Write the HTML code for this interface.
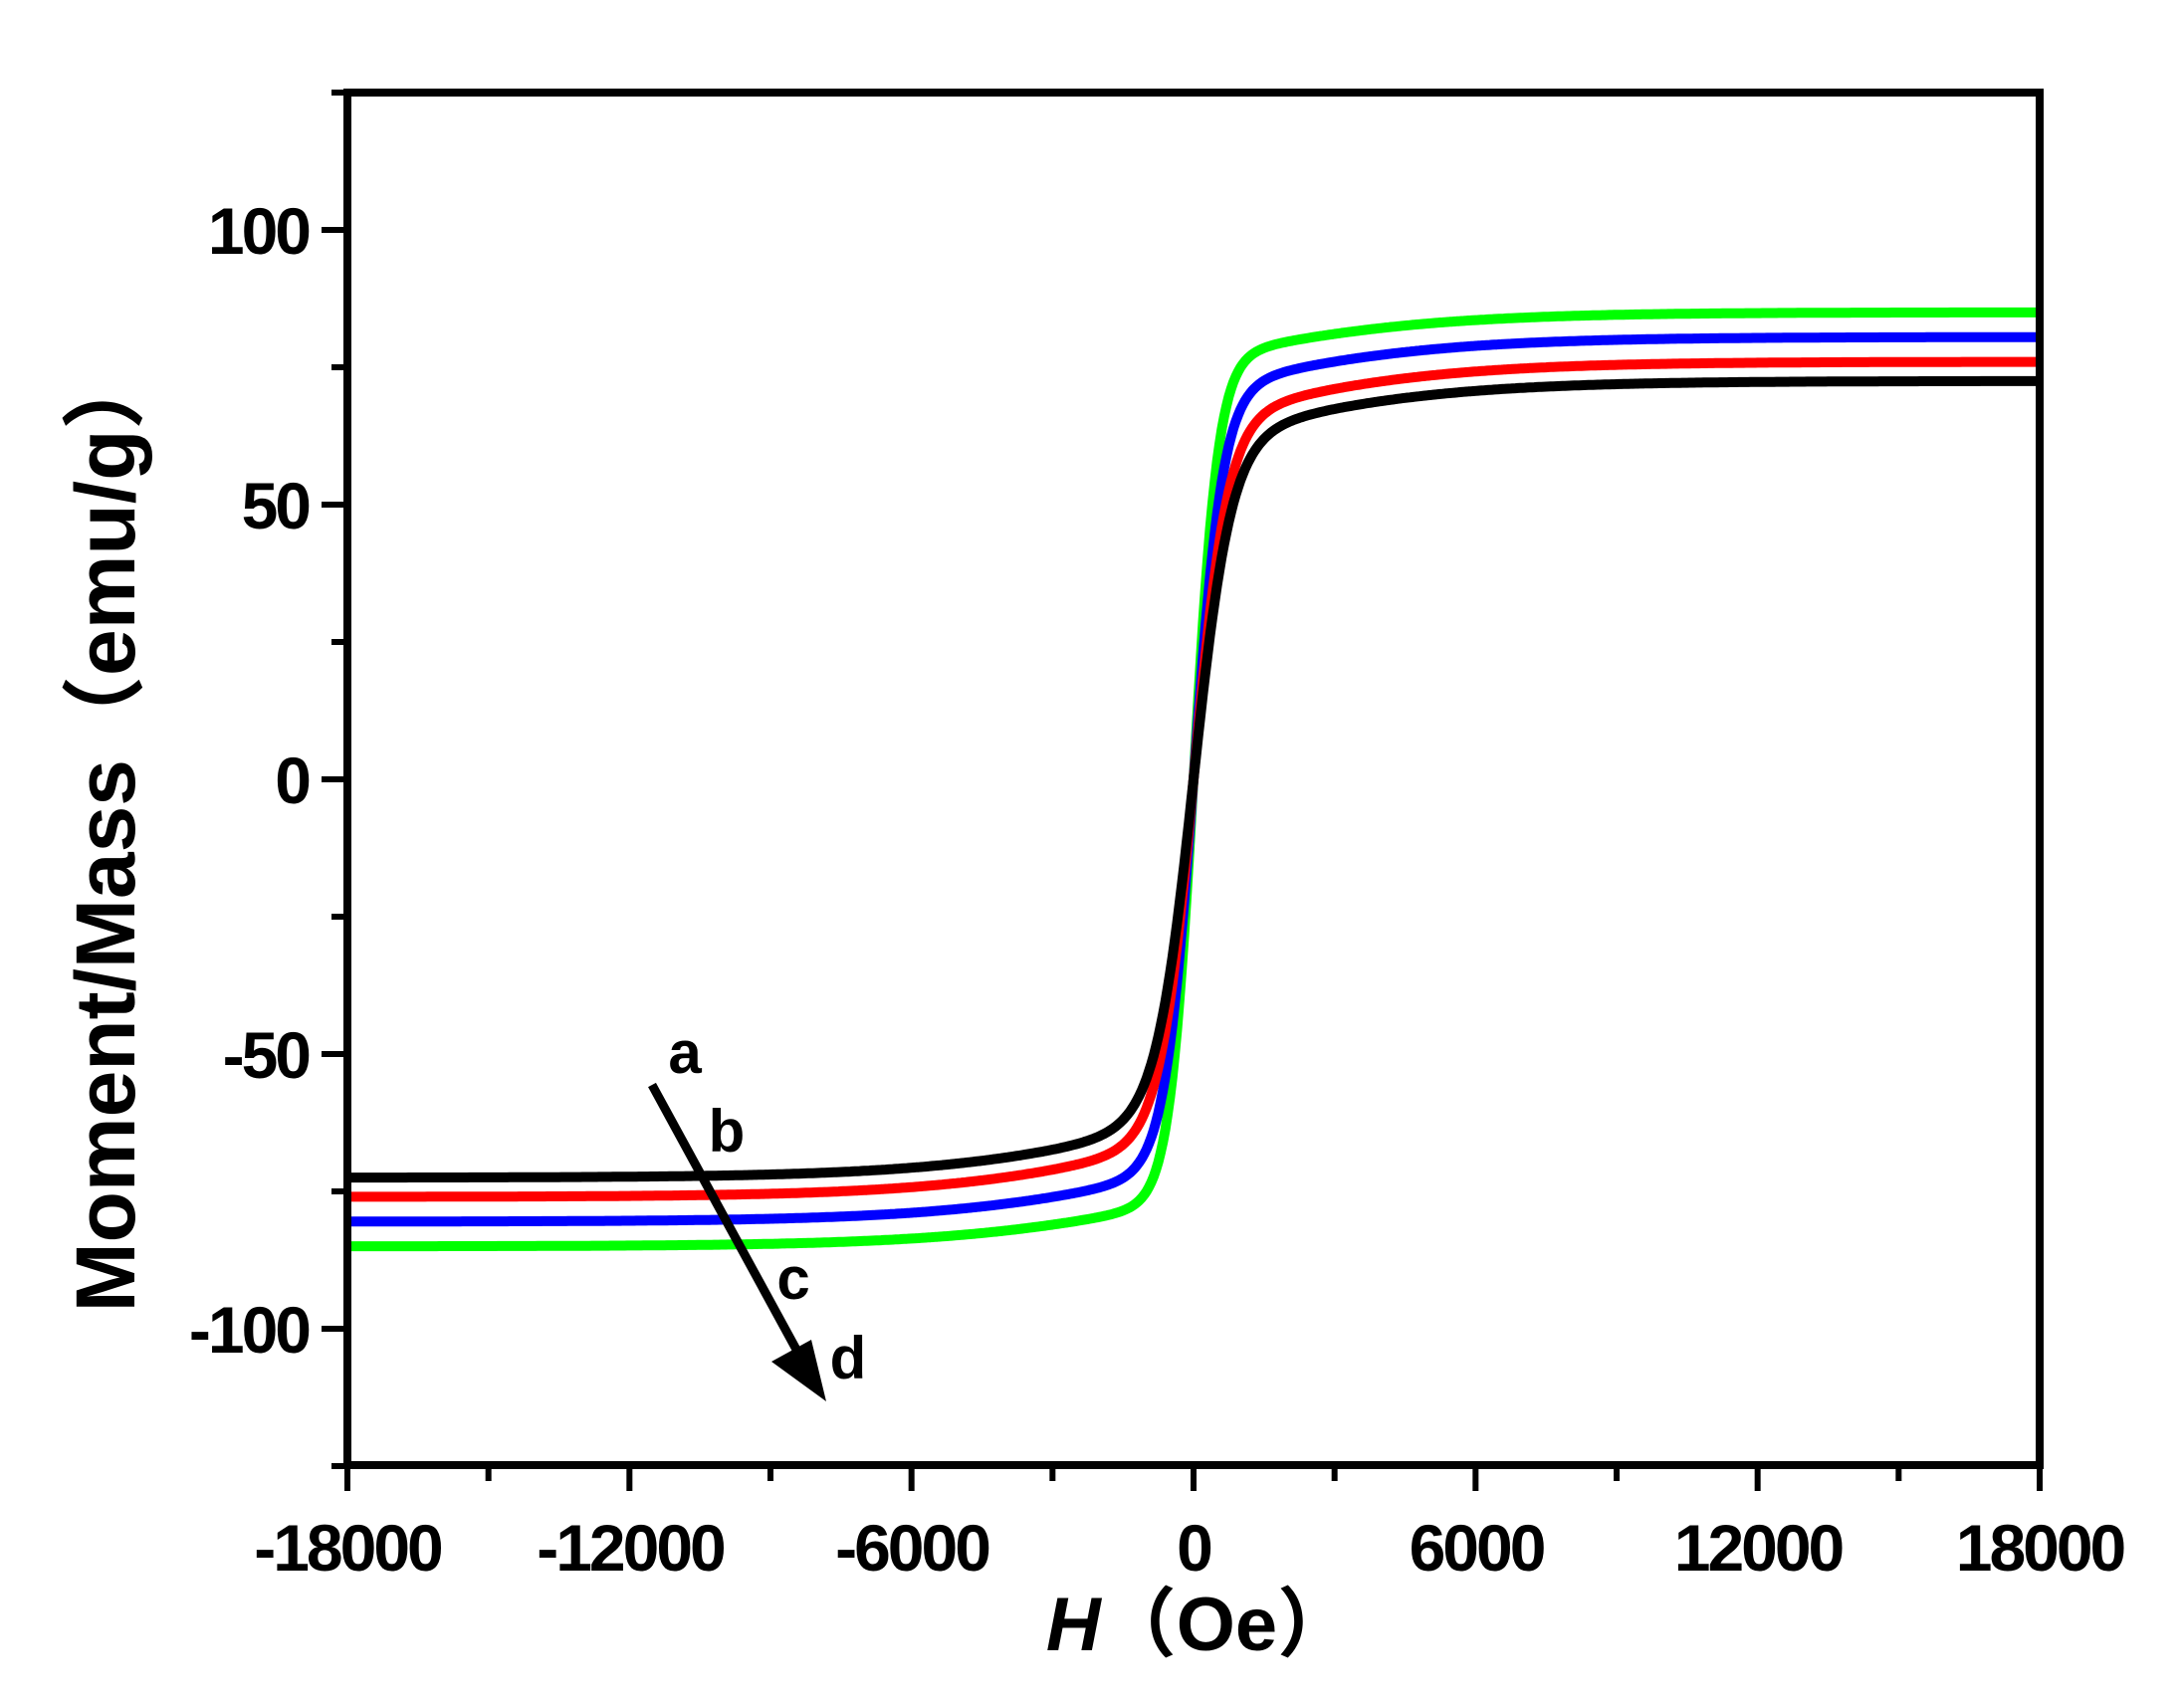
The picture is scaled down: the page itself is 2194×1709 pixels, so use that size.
<!DOCTYPE html>
<html><head><meta charset="utf-8"><style>
html,body{margin:0;padding:0;background:#fff;}
svg{display:block;}
text{font-family:"Liberation Sans","Noto Sans CJK SC",sans-serif;font-weight:bold;fill:#000;}
</style></head><body>
<svg id="s" width="2194" height="1709" viewBox="0 0 2194 1709" xmlns="http://www.w3.org/2000/svg">
<rect width="2194" height="1709" fill="#fff"/>
<g id="curves" fill="none" stroke-width="10" stroke-linejoin="round"></g>
<rect x="349" y="93" width="1700" height="1379" fill="none" stroke="#000" stroke-width="8"/>
<g id="ticks" stroke="#000" stroke-width="6"></g>
<g font-size="66" text-anchor="end" letter-spacing="-3">
<text x="310" y="255">100</text>
<text x="310" y="531">50</text>
<text x="310" y="807">0</text>
<text x="310" y="1083">-50</text>
<text x="310" y="1359">-100</text>
</g>
<g font-size="66" text-anchor="middle" letter-spacing="-3">
<text x="349" y="1578">-18000</text>
<text x="633" y="1578">-12000</text>
<text x="916" y="1578">-6000</text>
<text x="1199" y="1578">0</text>
<text x="1483" y="1578">6000</text>
<text x="1766" y="1578">12000</text>
<text x="2049" y="1578">18000</text>
</g>
<text x="1205" y="1658" font-size="76" text-anchor="middle"><tspan font-style="italic">H</tspan>（Oe）</text>
<text transform="translate(135,833) rotate(-90)" font-size="84" text-anchor="middle">Moment/Mass（emu/g）</text>
<line x1="655" y1="1090" x2="805" y2="1365" stroke="#000" stroke-width="9"/>
<polygon points="830,1408 775,1368 815,1346" fill="#000"/>
<g font-size="60" text-anchor="middle">
<text x="688" y="1078">a</text>
<text x="730" y="1157">b</text>
<text x="797" y="1305">c</text>
<text x="852" y="1385">d</text>
</g>
</svg>
<script>
var X=function(h){return 349+(h+18000)/36000*1700;};
var Y=function(m){return 783-m*5.52;};
var series=[["#000",72.5,0.85,800],["#f00",76,0.86,720],["#00f",80.5,0.88,620],["#0f0",85,0.9,520]];
var g=document.getElementById("curves"),ns="http://www.w3.org/2000/svg";
series.slice().reverse().forEach(function(s){
  var d="";
  for(var h=-18000;h<=18000;h+=50){
    var f=s[2]*Math.tanh(h/s[3])+(1-s[2])*Math.tanh(h/5000);
    d+=(d?"L":"M")+X(h).toFixed(1)+","+Y(s[1]*f).toFixed(1);
  }
  var p=document.createElementNS(ns,"path");p.setAttribute("d",d);p.setAttribute("stroke",s[0]);g.appendChild(p);
});
var t=document.getElementById("ticks");
function ln(a,b,c,d){var l=document.createElementNS(ns,"line");l.setAttribute("x1",a);l.setAttribute("y1",b);l.setAttribute("x2",c);l.setAttribute("y2",d);t.appendChild(l);}
for(var i=0;i<=12;i++){var x=349+i*1700/12;ln(x,1472,x,1472+(i%2?16:26));}
for(var m=-125;m<=125;m+=25){var y=Y(m);var maj=(m%50===0);ln(349,y,349-(maj?26:16),y);}
</script>
</body></html>
